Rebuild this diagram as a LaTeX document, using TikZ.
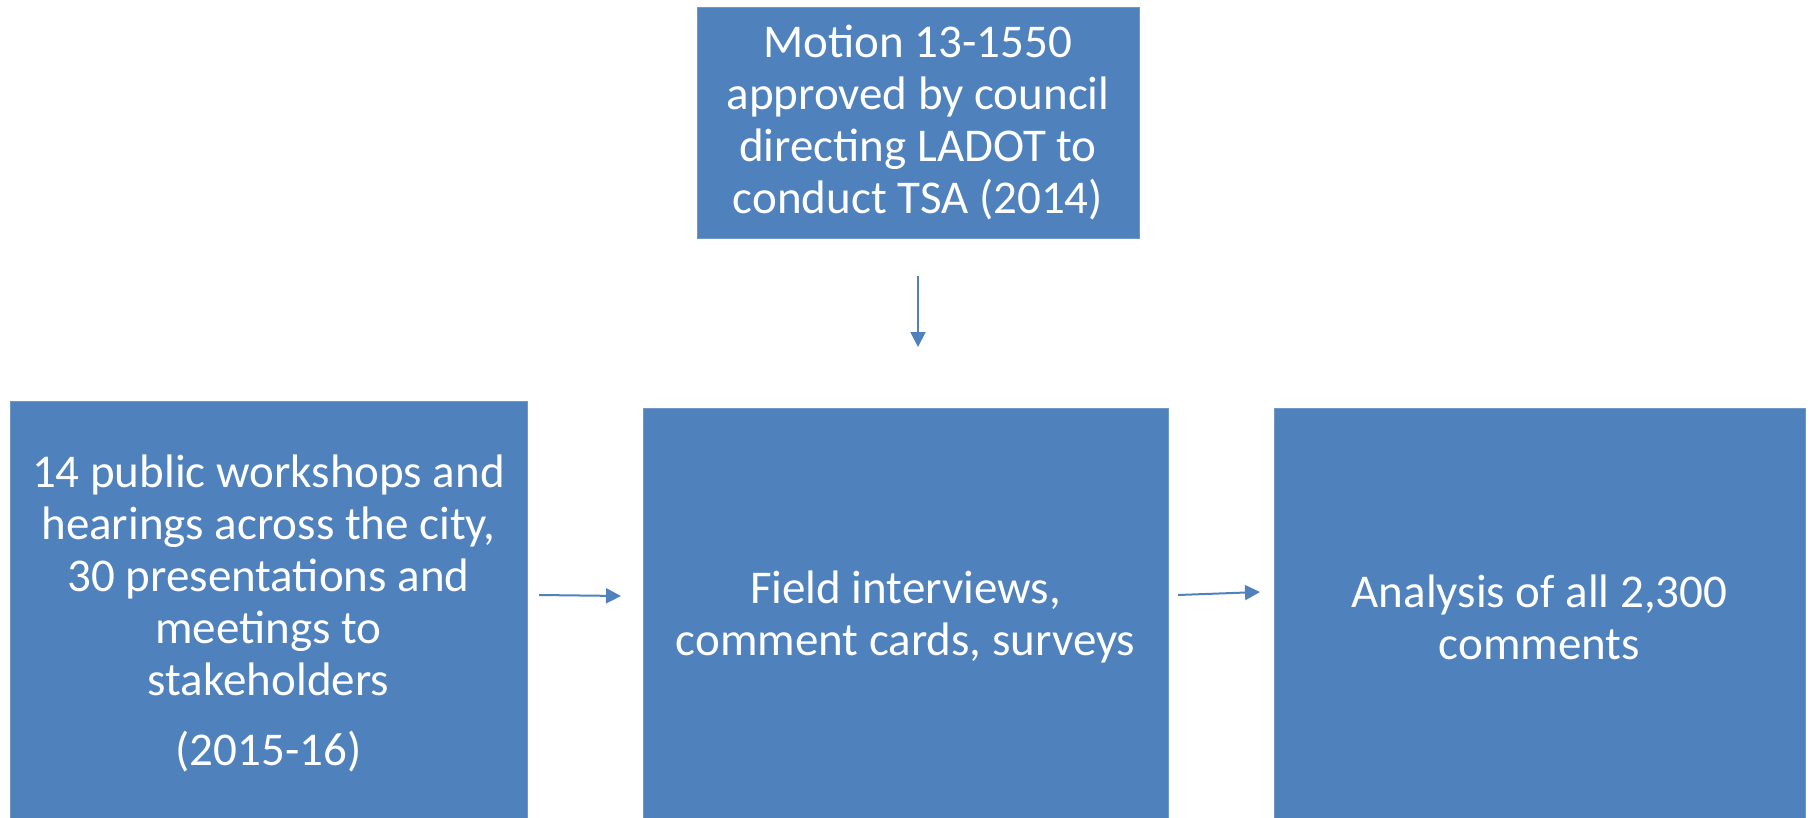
\documentclass[tikz,border=0pt]{standalone}
\usepackage{fontspec}
\setmainfont{Carlito}
\usetikzlibrary{arrows.meta}
\definecolor{boxblue}{HTML}{4F81BD}
\definecolor{edgeblue}{HTML}{6F97C8}
\tikzset{
  stage/.style={rectangle, fill=boxblue, draw=edgeblue, line width=0.8pt, text=white, align=center,
    inner sep=0pt, font=\fontsize{47}{52}\selectfont},
  flow/.style={draw=boxblue, line width=2pt, -{Triangle[length=15pt,width=15pt]}}
}
\begin{document}
\begin{tikzpicture}[x=1pt,y=-1pt]
\useasboundingbox (0,0) rectangle (1812,818);
\begin{scope}
\clip (0,0) rectangle (1812,818);
\node[stage, minimum width=442pt, minimum height=231pt] (top) at (918,122.5)
  {Motion 13-1550\\approved by council\\directing LADOT to\\conduct TSA (2014)};
\node[stage, minimum width=517pt, minimum height=425pt] (left) at (268.5,613.5)
  {14 public workshops and\\hearings across the city,\\30 presentations and\\meetings to\\stakeholders\\[18pt](2015-16)};
\node[stage, minimum width=525pt, minimum height=418pt] (mid) at (905.5,617)
  {Field interviews,\\comment cards, surveys};
\node[stage, minimum width=531pt, minimum height=418pt] (right) at (1539.5,617)
  {Analysis of all 2,300\\comments};
\end{scope}
\coordinate (v1) at (918,276);
\coordinate (v2) at (918,347);
\coordinate (h1s) at (539,595);
\coordinate (h1e) at (621,596);
\coordinate (h2s) at (1178,595);
\coordinate (h2e) at (1260,592);
\draw[flow] (v1) -- (v2);
\draw[flow] (h1s) -- (h1e);
\draw[flow] (h2s) -- (h2e);
\end{tikzpicture}
\end{document}
